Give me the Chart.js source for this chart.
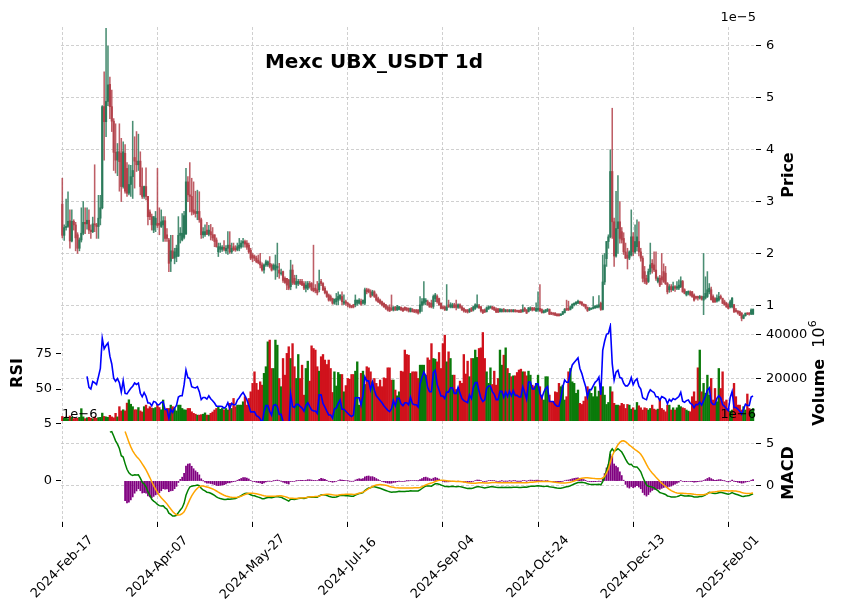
<!DOCTYPE html>
<html><head><meta charset="utf-8">
<script src="https://cdn.jsdelivr.net/npm/chart.js@4.4.1/dist/chart.umd.min.js"></script>
<style>
html,body{margin:0;padding:0;background:#fff;}
#wrap{position:relative;width:844px;height:615px;overflow:hidden;background:#fff;}
#wrap canvas{position:absolute;left:0;}
</style></head><body>
<div id="wrap">
<canvas id="cPrice" width="844" height="340" style="top:0px;width:844px;height:340px"></canvas>
<canvas id="cMid" width="844" height="140" style="top:300px;width:844px;height:140px"></canvas>
<canvas id="cMacd" width="844" height="215" style="top:400px;width:844px;height:215px"></canvas>
</div>
<script>
// ---------------- DATA (prices in units of 1e-5 USDT, volume in thousands of 10^6) ----------------
const chartTitle = 'Mexc UBX_USDT 1d';
const xTickIndex = [0, 50, 100, 150, 200, 250, 300, 350];
const xTickLabels = ['2024-Feb-17','2024-Apr-07','2024-May-27','2024-Jul-16','2024-Sep-04','2024-Oct-24','2024-Dec-13','2025-Feb-01'];
const priceTicks = [1, 2, 3, 4, 5, 6];
const volumeTicks = [20000, 40000];
const rsiTicks = [50, 75];
const macdTicks = [0, 5];
const histTicks = [0, 5];

const openP = [2.95,2.35,2.50,2.52,2.63,2.24,2.62,2.55,2.36,2.10,2.26,2.39,2.60,2.57,2.64,2.45,2.42,2.57,2.55,2.52,
2.68,2.88,4.83,4.54,4.93,5.26,4.83,4.55,3.95,3.80,3.96,3.93,3.29,3.93,3.64,3.16,3.33,3.48,3.85,3.78,
3.71,3.78,3.29,3.10,3.29,3.10,2.80,2.71,2.45,2.55,2.58,2.58,2.52,2.55,2.63,2.36,2.26,1.85,2.05,1.91,
1.94,1.95,2.35,2.26,2.31,2.38,3.38,3.13,3.10,2.84,2.81,2.77,2.81,2.65,2.36,2.36,2.45,2.37,2.42,2.36,
2.36,2.26,2.03,2.08,2.08,2.12,2.05,2.10,2.16,2.03,2.13,2.10,2.07,2.10,2.13,2.20,2.23,2.20,2.16,2.06,
1.97,1.94,1.91,1.87,1.84,1.78,1.68,1.78,1.78,1.81,1.78,1.71,1.68,1.72,1.68,1.62,1.65,1.52,1.52,1.49,
1.36,1.68,1.52,1.40,1.42,1.46,1.46,1.42,1.33,1.33,1.42,1.42,1.33,1.33,1.30,1.30,1.46,1.42,1.33,1.26,
1.20,1.17,1.13,1.04,1.07,1.10,1.13,1.17,1.04,1.07,1.04,1.01,0.99,1.01,1.01,1.04,1.04,1.08,1.04,1.04,
1.30,1.30,1.26,1.20,1.26,1.20,1.13,1.10,1.07,1.04,1.01,0.97,0.96,0.94,0.91,0.96,0.91,0.92,0.96,0.94,
0.96,0.94,0.94,0.88,0.92,0.91,0.91,0.91,0.88,1.00,1.04,1.07,1.07,1.04,1.04,0.98,1.13,1.17,1.13,1.04,
0.97,0.97,0.91,1.01,0.97,0.96,1.01,1.01,0.96,1.01,0.97,0.94,0.91,0.91,0.88,0.94,0.91,0.94,0.97,0.99,
0.97,0.91,0.91,0.88,0.93,0.96,0.97,0.96,0.93,0.93,0.88,0.88,0.92,0.88,0.91,0.88,0.91,0.88,0.91,0.90,
0.90,0.91,0.88,0.94,0.91,0.88,0.91,0.95,0.94,0.89,0.91,0.94,0.92,0.86,0.88,0.89,0.92,0.86,0.85,0.85,
0.83,0.83,0.81,0.83,0.86,0.94,0.94,0.92,0.95,1.01,1.03,1.04,1.07,1.06,1.02,1.01,0.96,0.91,0.93,0.94,
0.95,0.96,0.97,1.04,0.92,1.45,1.90,2.23,2.32,3.58,2.61,1.95,2.48,2.61,2.42,2.29,2.03,1.97,1.91,1.97,
2.32,2.03,2.13,2.23,2.03,1.91,1.65,1.52,1.46,1.65,1.81,1.78,1.68,1.46,1.52,1.55,1.65,1.62,1.42,1.30,
1.36,1.30,1.36,1.33,1.33,1.36,1.46,1.30,1.20,1.23,1.26,1.26,1.20,1.17,1.17,1.14,1.17,1.10,1.14,1.17,
1.26,1.30,1.17,1.13,1.08,1.10,1.17,1.13,1.07,1.04,1.01,0.97,0.97,1.01,0.91,0.89,0.88,0.85,0.75,0.80,
0.85,0.85,0.83,0.83];
const highP = [3.45,2.55,3.05,3.19,2.84,2.84,2.65,2.60,2.40,2.30,2.88,3.00,2.88,2.88,2.84,2.55,2.70,3.71,2.58,3.12,
3.12,4.85,5.50,6.34,6.00,5.40,5.15,4.60,4.50,4.12,4.50,4.22,4.15,4.10,3.75,3.71,3.70,4.55,4.25,4.35,
4.30,3.96,3.65,3.30,3.65,3.10,2.84,2.76,2.71,2.81,3.64,2.88,2.84,2.71,2.71,2.48,2.29,2.35,2.35,2.10,
2.16,2.71,2.50,2.77,2.81,3.64,3.48,3.75,3.45,3.38,3.20,3.22,3.19,2.68,2.50,2.55,2.60,2.54,2.56,2.50,
2.36,2.30,2.20,2.20,2.15,2.25,2.15,2.42,2.42,2.20,2.20,2.15,2.20,2.29,2.25,2.29,2.26,2.25,2.20,2.10,
2.00,1.97,1.95,1.97,2.00,1.82,1.80,1.87,1.86,1.94,1.80,1.80,1.97,2.20,1.81,1.70,1.66,1.55,1.52,1.50,
1.87,1.78,1.58,1.58,1.50,1.50,1.50,1.46,1.46,1.46,1.46,1.44,2.16,1.40,1.46,1.68,1.50,1.44,1.36,1.28,
1.22,1.20,1.14,1.12,1.23,1.26,1.20,1.26,1.20,1.10,1.06,1.03,1.00,1.02,1.20,1.10,1.13,1.12,1.10,1.33,
1.33,1.32,1.30,1.29,1.28,1.22,1.16,1.12,1.08,1.05,1.02,0.99,1.01,1.20,0.97,0.98,1.00,0.98,0.97,0.95,
0.97,0.96,0.95,0.95,0.94,0.92,0.92,0.92,1.17,1.13,1.46,1.13,1.10,1.06,1.10,1.20,1.23,1.20,1.14,1.05,
0.99,0.99,1.40,1.10,1.05,1.04,1.04,1.10,1.03,1.03,0.99,0.95,0.92,0.92,0.94,0.96,0.98,1.03,1.20,1.02,
0.98,0.92,0.93,0.97,0.99,0.99,0.98,0.97,0.95,0.94,0.94,0.93,0.94,0.92,0.92,0.92,0.92,0.92,0.92,0.91,
0.91,0.92,1.01,0.96,0.92,0.96,0.97,0.96,0.96,1.05,1.26,1.40,0.93,0.91,0.92,0.94,0.93,0.87,0.86,0.86,
0.84,0.84,0.84,0.88,0.94,1.10,1.08,0.99,1.03,1.05,1.07,1.10,1.08,1.07,1.03,1.02,0.97,0.96,0.95,1.17,
1.00,1.01,1.19,1.06,1.97,2.00,2.23,2.36,4.00,4.80,2.68,3.20,3.50,3.00,2.50,2.40,2.20,2.10,2.05,2.84,
2.40,2.55,2.65,2.61,2.10,1.95,1.75,1.58,1.70,2.20,1.88,2.03,2.03,1.55,1.58,2.00,1.80,1.75,1.44,1.40,
1.40,1.45,1.38,1.46,1.49,1.55,1.48,1.32,1.27,1.28,1.28,1.27,1.22,1.18,1.18,1.19,1.18,2.00,1.55,1.65,
1.42,1.35,1.20,1.15,1.20,1.25,1.20,1.14,1.10,1.06,1.03,1.10,1.15,1.02,0.94,0.90,0.89,0.86,0.82,0.85,
0.86,0.86,0.93,0.93];
const lowP = [2.30,2.25,2.45,2.50,2.10,2.22,2.45,2.05,2.00,2.05,2.22,2.36,2.38,2.47,2.38,2.29,2.40,2.42,2.29,2.29,
2.55,2.86,3.80,4.25,4.85,4.60,4.35,3.60,3.55,3.50,3.20,3.00,3.26,3.16,3.10,3.13,3.10,3.06,3.26,3.58,
3.60,3.13,3.06,3.06,3.03,2.55,2.65,2.45,2.40,2.42,2.50,2.36,2.50,2.23,2.23,2.23,1.65,1.65,1.90,1.80,
1.84,1.94,2.20,2.24,2.28,2.36,3.00,2.80,2.74,2.75,2.70,2.65,2.60,2.29,2.30,2.33,2.36,2.34,2.26,2.25,
2.13,2.12,1.94,2.02,2.04,2.05,2.00,1.98,2.00,2.00,2.05,2.04,2.05,2.05,2.10,2.12,2.12,2.08,2.00,1.88,
1.84,1.86,1.82,1.80,1.72,1.66,1.62,1.75,1.75,1.72,1.66,1.68,1.50,1.55,1.52,1.58,1.44,1.42,1.30,1.30,
1.30,1.40,1.40,1.33,1.38,1.40,1.38,1.30,1.26,1.30,1.33,1.28,1.26,1.24,1.20,1.26,1.38,1.28,1.22,1.15,
1.08,1.08,1.02,1.02,1.01,1.01,1.10,1.01,1.01,1.00,0.97,0.95,0.95,0.95,0.97,1.00,1.02,1.00,1.02,1.01,
1.22,1.24,1.15,1.18,1.15,1.08,1.05,1.02,0.99,0.96,0.92,0.89,0.88,0.90,0.89,0.90,0.90,0.91,0.90,0.88,
0.90,0.89,0.87,0.87,0.87,0.86,0.85,0.83,0.85,0.88,1.01,1.01,1.00,0.96,0.95,0.94,1.07,1.04,1.00,0.93,
0.93,0.90,0.90,0.96,0.95,0.95,0.95,0.91,0.94,0.94,0.90,0.87,0.86,0.85,0.86,0.88,0.89,0.92,0.95,0.94,
0.87,0.84,0.86,0.87,0.92,0.94,0.92,0.90,0.86,0.86,0.87,0.87,0.87,0.87,0.87,0.87,0.87,0.87,0.87,0.87,
0.86,0.86,0.87,0.88,0.84,0.87,0.90,0.89,0.90,0.88,0.88,0.88,0.85,0.85,0.86,0.88,0.82,0.82,0.81,0.80,
0.79,0.79,0.80,0.82,0.85,0.90,0.90,0.91,0.94,0.99,1.01,1.03,1.02,1.00,0.98,0.93,0.88,0.90,0.92,0.93,
0.94,0.95,0.95,0.90,0.91,1.40,1.75,2.10,2.30,2.29,1.75,1.93,2.00,2.20,2.20,1.98,1.90,1.70,1.88,1.95,
1.95,2.00,2.05,1.95,1.85,1.45,1.42,1.40,1.44,1.60,1.62,1.65,1.48,1.43,1.36,1.40,1.44,1.40,1.22,1.25,
1.26,1.28,1.27,1.30,1.30,1.34,1.25,1.22,1.18,1.20,1.18,1.15,1.08,1.12,1.10,1.12,1.10,0.82,1.12,1.15,
1.22,1.10,1.05,1.05,1.06,1.08,1.12,1.03,1.00,0.96,0.93,0.95,0.95,0.86,0.87,0.83,0.80,0.70,0.74,0.79,
0.82,0.81,0.82,0.82];
const closeP = [2.35,2.50,2.52,2.62,2.24,2.62,2.55,2.30,2.10,2.26,2.39,2.60,2.57,2.64,2.45,2.42,2.57,2.55,2.52,2.68,
2.88,4.83,4.54,4.93,5.25,4.83,4.55,3.95,3.80,3.96,3.77,3.29,3.96,3.20,3.16,3.33,3.48,3.60,3.78,3.71,
3.78,3.29,3.10,3.29,3.10,2.71,2.71,2.55,2.71,2.68,2.54,2.55,2.61,2.63,2.29,2.29,1.81,2.05,1.91,2.03,
2.10,2.35,2.39,2.39,2.73,3.38,3.13,3.10,2.81,2.78,2.77,2.81,2.65,2.36,2.42,2.42,2.37,2.45,2.36,2.30,
2.23,2.13,2.13,2.13,2.12,2.08,2.10,2.16,2.03,2.10,2.07,2.07,2.13,2.16,2.20,2.23,2.18,2.12,2.03,1.91,
1.91,1.91,1.84,1.82,1.78,1.68,1.78,1.84,1.84,1.75,1.68,1.77,1.78,1.75,1.62,1.62,1.48,1.44,1.39,1.33,
1.68,1.44,1.42,1.46,1.46,1.42,1.39,1.33,1.39,1.42,1.36,1.30,1.28,1.28,1.24,1.42,1.42,1.30,1.24,1.17,
1.10,1.10,1.04,1.12,1.13,1.17,1.20,1.07,1.07,1.04,1.01,0.98,0.96,0.97,1.10,1.10,1.10,1.02,1.10,1.30,
1.26,1.26,1.17,1.26,1.17,1.10,1.07,1.04,1.01,0.97,0.94,0.91,0.89,0.91,0.97,0.91,0.97,0.97,0.91,0.89,
0.91,0.91,0.89,0.94,0.88,0.87,0.87,0.85,1.01,1.07,1.13,1.10,1.01,0.97,0.97,1.17,1.20,1.07,1.01,0.94,
0.94,0.91,0.97,0.97,1.01,1.01,0.96,0.96,1.01,0.96,0.91,0.89,0.88,0.87,0.92,0.89,0.97,1.01,1.01,0.95,
0.89,0.86,0.87,0.95,0.97,0.97,0.93,0.91,0.87,0.87,0.92,0.92,0.88,0.91,0.88,0.91,0.88,0.91,0.88,0.88,
0.87,0.87,0.92,0.89,0.85,0.95,0.95,0.91,0.91,0.94,0.94,0.89,0.86,0.89,0.91,0.92,0.83,0.83,0.83,0.81,
0.80,0.80,0.83,0.88,0.92,0.91,0.91,0.97,1.02,1.04,1.06,1.08,1.04,1.02,0.99,0.96,0.90,0.94,0.94,0.96,
0.98,0.99,1.01,0.92,1.45,1.78,2.23,2.32,3.58,2.61,1.95,2.48,2.61,2.29,2.26,2.03,1.91,1.91,2.03,2.32,
2.03,2.23,2.32,2.03,1.91,1.52,1.46,1.42,1.65,1.78,1.72,1.68,1.52,1.52,1.39,1.49,1.46,1.42,1.26,1.36,
1.30,1.36,1.33,1.36,1.39,1.47,1.26,1.23,1.26,1.27,1.20,1.17,1.10,1.14,1.14,1.17,1.12,1.17,1.23,1.30,
1.33,1.11,1.07,1.07,1.14,1.17,1.14,1.04,1.01,0.97,0.94,1.07,1.14,0.88,0.88,0.85,0.81,0.75,0.80,0.85,
0.83,0.83,0.91,0.92];
const volumeK = [3.0,2.2,2.8,2.0,3.2,2.6,2.0,2.4,2.2,2.6,6.5,2.8,2.0,2.4,2.6,2.2,2.0,2.8,2.2,2.5,
2.6,4.5,3.0,2.8,2.6,3.5,2.8,2.4,4.4,2.8,7.4,5.5,6.0,5.5,9.0,10.5,8.5,7.4,6.0,6.0,
7.0,5.5,5.0,7.4,8.1,6.5,7.4,6.8,6.6,7.0,8.5,7.0,6.0,10.4,5.9,6.6,6.6,8.1,7.4,6.6,
5.5,8.1,8.1,6.6,6.0,5.9,6.6,6.6,5.1,4.4,4.0,3.6,3.6,3.8,4.0,4.6,3.6,3.6,4.4,5.0,
5.9,6.6,7.4,6.2,6.6,5.9,6.6,5.9,8.9,6.6,11.1,7.4,8.1,8.1,8.1,9.6,11.9,8.1,11.1,14.1,
17.9,23.1,17.9,14.9,18.6,17.1,22.4,25.4,36.6,37.4,24.6,24.6,37.4,35.1,20.1,16.4,29.1,21.6,31.4,34.4,
29.1,35.8,25.4,20.1,30.9,20.1,26.1,12.6,24.6,27.9,18.9,34.8,33.6,32.9,25.4,23.4,29.9,30.9,28.4,26.4,
28.4,24.6,13.8,23.1,16.7,22.8,21.9,21.9,14.1,16.9,20.1,19.8,21.9,21.9,23.4,27.6,8.1,22.4,23.4,17.4,
25.4,24.9,23.1,18.6,20.1,17.9,16.4,19.4,16.4,20.4,20.1,24.9,24.9,19.4,19.4,14.9,12.3,14.1,23.4,23.1,
32.9,30.9,30.6,22.4,23.1,23.1,23.1,20.1,26.1,26.1,26.1,21.6,29.4,28.4,35.8,29.1,28.8,27.6,31.8,24.6,
35.8,39.6,27.6,32.1,29.1,21.6,21.6,15.1,15.4,18.9,17.9,30.9,22.1,27.9,20.9,29.1,29.1,32.9,29.6,33.6,
33.9,40.8,29.1,23.1,17.9,24.9,17.4,23.4,17.1,20.1,32.9,26.1,30.6,33.9,24.6,22.4,20.9,21.3,21.3,22.8,
23.9,24.3,23.1,23.1,21.3,23.4,21.6,17.1,16.4,17.9,21.6,16.4,12.6,10.4,20.9,20.9,12.6,9.6,9.6,14.1,
13.8,17.9,16.4,17.1,10.4,11.9,23.1,24.6,18.6,17.9,13.4,14.9,8.9,8.4,9.9,11.9,16.4,14.9,13.4,11.9,
16.4,11.9,14.4,17.9,16.4,12.6,8.4,9.3,16.4,14.1,8.9,8.1,8.1,7.8,8.9,8.4,6.6,8.4,8.1,6.3,
6.9,5.9,9.3,7.8,6.9,5.9,6.9,6.6,5.9,6.6,8.1,6.3,5.9,6.3,10.8,6.6,5.9,5.1,8.1,8.1,
5.9,6.9,5.9,6.9,8.1,7.4,6.9,6.6,5.9,5.4,5.1,11.9,14.1,9.9,24.9,32.9,14.1,17.9,13.4,21.6,
12.6,20.1,10.4,15.6,9.6,24.6,15.6,23.1,9.6,10.4,6.6,5.4,5.9,17.9,11.9,8.1,8.1,5.9,7.4,5.9,
13.1,6.6,5.9,6.6];

// ---------------- indicators (computed from the closes) ----------------
const N = closeP.length;
function emaFrom(arr, span, start) {
  const a = 2 / (span + 1); const out = new Array(arr.length).fill(null); let prev = null;
  for (let i = start; i < arr.length; i++) { prev = prev === null ? arr[i] : a * arr[i] + (1 - a) * prev; out[i] = prev; }
  return out;
}
const ema12 = emaFrom(closeP, 12, 0), ema26 = emaFrom(closeP, 26, 0);
const macdStart = 25, sigStart = 33;
const macdRaw = closeP.map((c, i) => ema12[i] - ema26[i]);
const sigRaw = emaFrom(macdRaw, 9, macdStart);
const macdLine = [], sigLine = [], histBars = [];
for (let i = 0; i < N; i++) {
  macdLine.push({x: i, y: i >= macdStart ? macdRaw[i] * 10 : null});
  sigLine.push({x: i, y: i >= sigStart ? sigRaw[i] * 10 : null});
  if (i >= sigStart) histBars.push({x: i, y: (macdRaw[i] - sigRaw[i]) * 10});
}
let au = 0, ad = 0; const rsiLine = [];
for (let i = 0; i < N; i++) {
  const d = i === 0 ? 0 : closeP[i] - closeP[i - 1];
  const up = Math.max(d, 0), dn = Math.max(-d, 0);
  if (i === 0) { au = up; ad = dn; } else { au = au + (up - au) / 14; ad = ad + (dn - ad) / 14; }
  rsiLine.push({x: i, y: i >= 13 ? (ad === 0 ? 100 : 100 - 100 / (1 + au / ad)) : null});
}

// ---------------- styling helpers ----------------
Chart.defaults.font.family = '"DejaVu Sans", sans-serif';
Chart.defaults.font.size = 13;
Chart.defaults.color = '#000';
const GRID = '#c4c4c4';
const UPC = '#2a7a5a', DNC = '#b3424b';
const VUP = '#0a7a0a', VDN = '#d0121c';
const isUp = closeP.map((c, i) => c >= openP[i]);
const idx = closeP.map((_, i) => i);
const X_MIN = -0.683, X_MAX = 364.55;

function xScale(showTicks, h) {
  return {
    type: 'linear', min: X_MIN, max: X_MAX, offset: false,
    afterBuildTicks: s => { s.ticks = xTickIndex.map(v => ({value: v})); },
    afterFit: s => { s.height = h; },
    ticks: {display: false},
    grid: {color: GRID, lineWidth: 0.8, offset: false, drawTicks: showTicks, tickLength: 5, tickColor: '#000', tickWidth: 1},
    border: {display: false, dash: [3, 2]}
  };
}
function yScale(pos, min, max, ticks, grid, width, fmt) {
  return {
    type: 'linear', position: pos, min: min, max: max,
    afterBuildTicks: s => { s.ticks = ticks.map(v => ({value: v})); },
    afterFit: s => { s.width = width; },
    ticks: {padding: pos === 'right' ? 5 : 4, font: {size: 13}, color: '#000', callback: fmt || (v => String(v))},
    grid: {color: GRID, lineWidth: 0.8, drawOnChartArea: grid, drawTicks: true, tickLength: 5, tickColor: '#000', tickWidth: 1},
    border: {display: false, dash: [3, 2]}
  };
}
function textPlugin(fn) { return {id: 'txt' + Math.random().toString(36).slice(2), afterDraw: c => { const ctx = c.ctx; ctx.save(); fn(ctx, c); ctx.restore(); }}; }
function rotText(ctx, s, x, y, font) {
  ctx.save(); ctx.translate(x, y); ctx.rotate(-Math.PI / 2); ctx.font = font;
  ctx.textAlign = 'center'; ctx.textBaseline = 'middle'; ctx.fillText(s, 0, 0); ctx.restore();
}
const baseOpts = {responsive: false, animation: false, devicePixelRatio: 1, events: [],
  plugins: {legend: {display: false}, tooltip: {enabled: false}, title: {display: false}}};

// ---------------- price panel ----------------
new Chart(document.getElementById('cPrice'), {
  type: 'bar',
  data: {datasets: [
    {label: 'wick', data: idx.map(i => ({x: i, y: [lowP[i], highP[i]]})), backgroundColor: idx.map(i => isUp[i] ? 'rgba(42,122,90,0.85)' : 'rgba(179,66,75,0.85)'), barThickness: 0.9, grouped: false, order: 2},
    {label: 'body', data: idx.map(i => { const lo = Math.min(openP[i], closeP[i]), hi = Math.max(openP[i], closeP[i]); return {x: i, y: hi - lo < 0.012 ? [lo - 0.006, hi + 0.006] : [lo, hi]}; }), backgroundColor: idx.map(i => isUp[i] ? UPC : DNC), barThickness: 1.5, grouped: false, order: 1}
  ]},
  options: Object.assign({}, baseOpts, {
    layout: {padding: {left: 61, top: 27, right: 0, bottom: 17}},
    scales: {
      x: xScale(false, 0),
      y: yScale('right', 0.659, 6.366, priceTicks, true, 88)
    }
  }),
  plugins: [textPlugin((ctx) => {
    ctx.fillStyle = '#000';
    ctx.font = 'bold 20px "DejaVu Sans"'; ctx.textAlign = 'center'; ctx.textBaseline = 'alphabetic';
    ctx.fillText(chartTitle, 374, 68);
    ctx.font = '13px "DejaVu Sans"'; ctx.textAlign = 'right';
    ctx.fillText('1e\u22125', 756, 21);
    rotText(ctx, 'Price', 789, 175, 'bold 16px "DejaVu Sans"');
  })]
});

// ---------------- volume + RSI panel ----------------
new Chart(document.getElementById('cMid'), {
  type: 'bar',
  data: {datasets: [
    {type: 'line', label: 'RSI', data: rsiLine, yAxisID: 'yRsi', borderColor: '#0000ff', borderWidth: 1.6, pointRadius: 0, tension: 0, spanGaps: false, order: 0},
    {label: 'Volume', data: idx.map(i => ({x: i, y: volumeK[i] * 1000})), yAxisID: 'yVol', backgroundColor: idx.map(i => isUp[i] ? VUP : VDN), barThickness: 1.7, grouped: false, order: 1}
  ]},
  options: Object.assign({}, baseOpts, {
    layout: {padding: {left: 0, top: 23, right: 0, bottom: 19}},
    scales: {
      x: xScale(false, 0),
      yRsi: yScale('left', 27.6, 96.2, rsiTicks, false, 61),
      yVol: yScale('right', 946, 45090, volumeTicks, true, 88)
    }
  }),
  plugins: [textPlugin((ctx) => {
    ctx.fillStyle = '#000';
    rotText(ctx, 'RSI', 18, 73, 'bold 16px "DejaVu Sans"');
    ctx.save(); ctx.translate(820, 73); ctx.rotate(-Math.PI / 2);
    ctx.textBaseline = 'middle'; ctx.textAlign = 'left';
    ctx.font = 'bold 16px "DejaVu Sans"'; const w1 = ctx.measureText('Volume  ').width;
    ctx.font = '16px "DejaVu Sans"'; const w2 = ctx.measureText('10').width;
    ctx.font = '11px "DejaVu Sans"'; const w3 = ctx.measureText('6').width;
    const tot = w1 + w2 + w3; let xx = -tot / 2;
    ctx.font = 'bold 16px "DejaVu Sans"'; ctx.fillText('Volume  ', xx, 0); xx += w1;
    ctx.font = '16px "DejaVu Sans"'; ctx.fillText('10', xx, 0); xx += w2;
    ctx.font = '11px "DejaVu Sans"'; ctx.fillText('6', xx, -7);
    ctx.restore();
  })]
});

// ---------------- MACD panel ----------------
new Chart(document.getElementById('cMacd'), {
  type: 'bar',
  data: {datasets: [
    {type: 'line', label: 'Signal', data: sigLine, yAxisID: 'yHist', borderColor: '#ffa500', borderWidth: 1.5, pointRadius: 0, tension: 0, order: 0},
    {type: 'line', label: 'MACD', data: macdLine, yAxisID: 'yMacd', borderColor: '#008000', borderWidth: 1.5, pointRadius: 0, tension: 0, order: 1},
    {label: 'Histogram', data: histBars, yAxisID: 'yHist', backgroundColor: '#800080', barThickness: 1.1, grouped: false, order: 2}
  ]},
  options: Object.assign({}, baseOpts, {
    layout: {padding: {left: 0, top: 21, right: 0, bottom: 0}},
    scales: {
      x: xScale(true, 93),
      yHist: yScale('left', -3.60, 5.26, histTicks, false, 61),
      yMacd: yScale('right', -4.22, 7.61, macdTicks, true, 88)
    }
  }),
  plugins: [textPlugin((ctx, c) => {
    ctx.fillStyle = '#000';
    ctx.font = '13px "DejaVu Sans"'; ctx.textBaseline = 'alphabetic';
    ctx.textAlign = 'left'; ctx.fillText('1e\u22126', 62, 18);
    ctx.textAlign = 'right'; ctx.fillText('1e\u22126', 756, 18);
    rotText(ctx, 'MACD', 789, 73, 'bold 16px "DejaVu Sans"');
    const xs = c.scales.x;
    ctx.font = '13px "DejaVu Sans"'; ctx.textAlign = 'center'; ctx.textBaseline = 'middle';
    xTickIndex.forEach((v, k) => {
      ctx.save(); ctx.translate(xs.getPixelForValue(v), 167); ctx.rotate(-Math.PI / 4);
      ctx.fillText(xTickLabels[k], 0, 0); ctx.restore();
    });
  })]
});
</script>
</body></html>
